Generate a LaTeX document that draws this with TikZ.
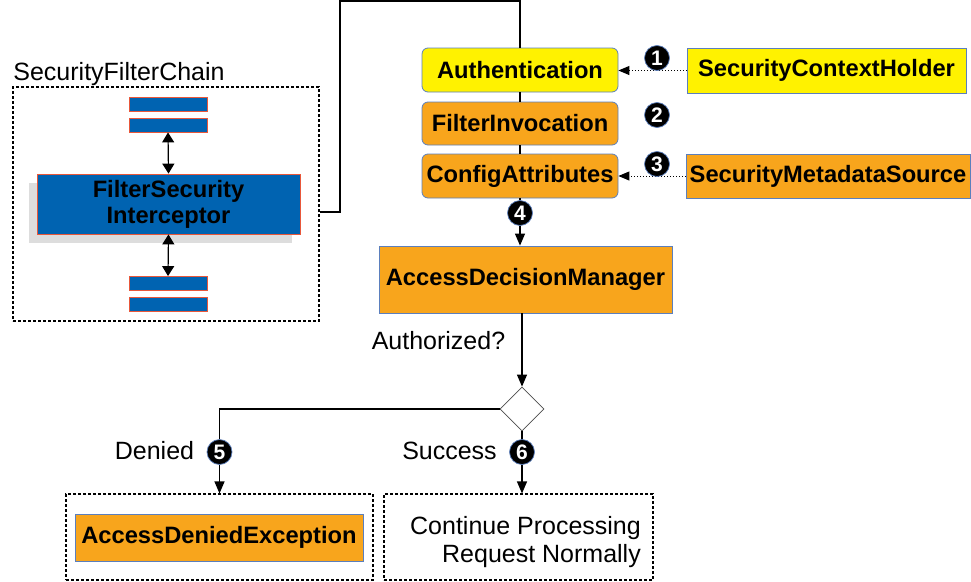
\documentclass[tikz,border=0pt]{standalone}
\usepackage{fontspec}
\setmainfont{Liberation Sans}
\usetikzlibrary{arrows.meta,shapes.geometric,shadows}

\definecolor{boxyellow}{HTML}{FFF200}
\definecolor{boxorange}{HTML}{F8A51C}
\definecolor{boxline}{HTML}{5B7FBD}
\definecolor{filterblue}{HTML}{0063B1}
\definecolor{filterred}{HTML}{E8573A}
\definecolor{shadowgray}{HTML}{DDDDDD}

\begin{document}
\begin{tikzpicture}[x=1pt, y=1pt,
  boxtext/.style={font=\fontsize{23.7}{26}\selectfont\bfseries, inner sep=0pt},
  plain/.style={font=\fontsize{25}{28}\selectfont, inner sep=0pt},
  pill/.style={boxtext, draw=boxline, line width=0.8pt, rounded corners=6pt, minimum width=196, minimum height=44},
  sqbox/.style={boxtext, draw=boxline, line width=0.8pt},
  filterbar/.style={draw=filterred, fill=filterblue, line width=0.8pt, minimum width=78, minimum height=14, inner sep=0pt},
  dotbox/.style={draw, dash pattern=on 3pt off 2pt, line width=1.1pt, inner sep=0pt},
  badge/.style={circle, fill=black, draw=boxline, line width=0.7pt, text=white, minimum size=25, inner sep=0pt, font=\fontsize{21}{21}\selectfont\bfseries},
  flow/.style={line width=1.2pt, -{Triangle[length=12pt,width=10pt]}},
  lookup/.style={line width=1pt, dotted, -{Triangle[length=11pt,width=9pt]}},
  chainarrow/.style={line width=1.2pt, {Triangle[length=10pt,width=12pt]}-{Triangle[length=10pt,width=12pt]}},
]
\useasboundingbox (0, 0) rectangle (971, -581);

% filter chain
\node[plain, anchor=base] (chainlabel) at (119, -80) {SecurityFilterChain};
\node[dotbox, minimum width=306, minimum height=234] (chain) at (166, -204) {};
\node[filterbar] (bar1) at (168, -104.5) {};
\node[filterbar] (bar2) at (168, -125) {};
\node[boxtext, align=center, fill=filterblue, draw=filterred, line width=0.8pt,
  minimum width=263, minimum height=60,
  drop shadow={shadow xshift=-8pt, shadow yshift=-8.5pt, fill=shadowgray, opacity=1}]
  (fsi) at (168.5, -204) {FilterSecurity\\Interceptor};
\node[filterbar] (bar3) at (168, -283.5) {};
\node[filterbar] (bar4) at (168, -304) {};
\draw[chainarrow] (bar2.south) -- (fsi.north);
\draw[chainarrow] (fsi.south) -- (bar3.north);

% what the interceptor gathers
\node[pill, fill=boxyellow] (auth) at (520, -70) {Authentication};
\node[pill, fill=boxorange, minimum height=43] (finv) at (520, -123.5) {FilterInvocation};
\node[pill, fill=boxorange] (cattr) at (520, -176) {ConfigAttributes};
\node[sqbox, fill=boxyellow, minimum width=279, minimum height=45] (sch) at (826.5, -70.5) {SecurityContextHolder};
\node[sqbox, fill=boxorange, minimum width=284, minimum height=44] (sms) at (828, -176) {SecurityMetadataSource};
\node[sqbox, fill=boxorange, minimum width=293, minimum height=67] (adm) at (525.5, -279.5) {AccessDecisionManager};

\coordinate (bend) at (340, -1);
\draw[line width=1.2pt] ([yshift=-8pt]chain.east) -| (bend) -| (auth.north);
\draw[line width=1.2pt] (auth.south) -- (finv.north);
\draw[line width=1.2pt] (finv.south) -- (cattr.north);
\draw[flow] (cattr.south) -- (cattr.south |- adm.north);
\draw[lookup] (sch.west) -- (sch.west -| auth.east);
\draw[lookup] (sms.west) -- (sms.west -| cattr.east);

\node[badge] (n1) at (657, -58) {1};
\node[badge] (n2) at (657, -115) {2};
\node[badge] (n3) at (657, -164) {3};
\node[badge] (n4) at (520, -213) {4};

% decision
\node[diamond, draw=black!70, line width=0.8pt, minimum width=44, minimum height=44, inner sep=0pt] (dec) at (522, -409) {};
\node[plain, anchor=base] (authq) at (438.5, -349) {Authorized?};
\draw[flow] (adm.south -| dec.north) -- (dec.north);

\node[dotbox, minimum width=307, minimum height=86] (denied) at (219.5, -537) {};
\node[sqbox, fill=boxorange, minimum width=288, minimum height=47] (ade) at (219, -537.5) {AccessDeniedException};
\node[dotbox, plain, align=right, minimum width=269, minimum height=86] (cont) at (518.5, -537) {\hspace*{14pt}\rule{0pt}{28pt}Continue Processing\\Request Normally};

\draw[flow] (dec.west) -| (denied.north);
\draw[flow] (dec.south) -- (dec.south |- cont.north);

\node[plain, anchor=base] (deniedlabel) at (154.5, -459) {Denied};
\node[plain, anchor=base] (successlabel) at (449.5, -459) {Success};
\node[badge] (n5) at (219.5, -452) {5};
\node[badge] (n6) at (522, -452) {6};
\end{tikzpicture}
\end{document}
